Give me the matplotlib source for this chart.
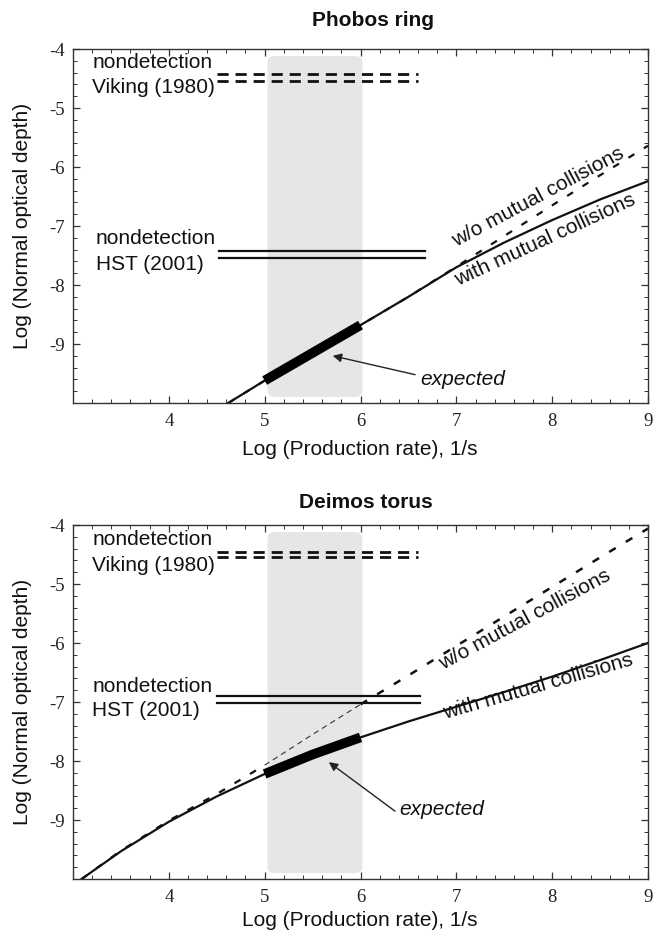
import numpy as np
import matplotlib
matplotlib.use("Agg")
import matplotlib.pyplot as plt
from matplotlib.patches import FancyBboxPatch
from matplotlib.ticker import MultipleLocator

plt.rcParams['font.family'] = ['Liberation Sans', 'DejaVu Sans']
plt.rcParams['axes.unicode_minus'] = False
plt.rcParams['lines.scale_dashes'] = False

# ---------------- data ----------------
x_ticks = [4, 5, 6, 7, 8, 9]
y_ticks = [-9, -8, -7, -6, -5, -4]

phobos_x = [4.62, 5.0, 5.5, 6.0, 6.5, 7.0, 7.5, 8.0, 8.5, 9.0]
phobos_with = [-10.0, -9.62, -9.15, -8.68, -8.2, -7.7, -7.28, -6.9, -6.55, -6.24]
phobos_without = [-10.0, -9.62, -9.15, -8.68, -8.2, -7.69, -7.17, -6.65, -6.14, -5.64]

deimos_x = [3.09, 3.5, 4.0, 4.5, 5.0, 5.5, 6.0, 6.5, 7.0, 7.5, 8.0, 8.5, 9.0]
deimos_with = [-10.0, -9.53, -9.03, -8.6, -8.22, -7.89, -7.6, -7.33, -7.08, -6.83, -6.57, -6.29, -6.0]
deimos_without = [-10.0, -9.52, -9.01, -8.56, -8.07, -7.55, -7.04, -6.55, -6.05, -5.55, -5.05, -4.55, -4.06]

expected_range = [5.0, 6.0]           # log production rate, 1/s
shade_range = [5.03, 6.02]

viking_levels = {'Phobos': [-4.42, -4.55], 'Deimos': [-4.45, -4.55]}
viking_span = [4.5, 6.6]
hst_levels = {'Phobos': [-7.43, -7.55], 'Deimos': [-6.9, -7.02]}
hst_span = {'Phobos': [4.52, 6.67], 'Deimos': [4.5, 6.62]}

W, H = 653, 938
fig = plt.figure(figsize=(W / 100, H / 100), dpi=100)

def px_axes(left, top, right, bottom):
    return fig.add_axes([left / W, 1 - bottom / H, (right - left) / W, (bottom - top) / H])

FS = 15
INK = '#111111'

def setup(ax):
    ax.set_xlim(3, 9)
    ax.set_ylim(-10, -4)
    ax.set_xticks(x_ticks)
    ax.set_yticks(y_ticks)
    ax.xaxis.set_minor_locator(MultipleLocator(0.2))
    ax.yaxis.set_minor_locator(MultipleLocator(0.2))
    ax.tick_params(which='both', direction='in', top=True, right=True,
                   color='#333333', labelfontfamily='Liberation Serif',
                   labelsize=13.5, labelcolor='#222222')
    ax.tick_params(which='major', length=5, width=0.9)
    ax.tick_params(which='minor', length=3, width=0.7)
    ax.tick_params(axis='x', pad=7)
    ax.tick_params(axis='y', pad=6)
    for s in ax.spines.values():
        s.set_color('#333333')
        s.set_linewidth(1.0)

def shade(ax):
    sx0, sx1 = shade_range
    r = 0.07
    asp = (354 / 6) / (575 / 6)
    p = FancyBboxPatch((sx0, -9.9), sx1 - sx0, 5.78,
                       boxstyle=f"round,pad=0,rounding_size={r}",
                       mutation_aspect=1 / asp,
                       facecolor='#e6e6e6', edgecolor='none', zorder=0)
    ax.add_patch(p)

def nondetection(ax, key):
    for lv in viking_levels[key]:
        ax.plot(viking_span, [lv, lv], color=INK, lw=2.0, dashes=(8, 5),
                solid_capstyle='butt', dash_capstyle='butt', zorder=3)
    for lv in hst_levels[key]:
        ax.plot(hst_span[key], [lv, lv], color=INK, lw=1.6, zorder=3)

# ---------------- Phobos ----------------
ax1 = px_axes(73, 49, 648, 403)
setup(ax1)
shade(ax1)
nondetection(ax1, 'Phobos')
px = np.array(phobos_x)
ax1.plot(px, phobos_without, color=INK, lw=1.6, dashes=(5, 8), zorder=2)
ax1.plot(px, phobos_with, color=INK, lw=1.6, zorder=2)
m = (px >= expected_range[0]) & (px <= expected_range[1])
ax1.plot(px[m], np.array(phobos_with)[m], color='black', lw=7,
         solid_capstyle='butt', zorder=4)
ax1.text(3.2, -4.23, 'nondetection', fontsize=FS, va='center', ha='left', color=INK)
ax1.text(3.2, -4.66, 'Viking (1980)', fontsize=FS, va='center', ha='left', color=INK)
ax1.text(3.24, -7.22, 'nondetection', fontsize=FS, va='center', ha='left', color=INK)
ax1.text(3.24, -7.66, 'HST (2001)', fontsize=FS, va='center', ha='left', color=INK)
ax1.text(7.0, -7.36, 'w/o mutual collisions', fontsize=FS, rotation=28,
         rotation_mode='anchor', ha='left', va='baseline', color=INK)
ax1.text(7.02, -8.02, 'with mutual collisions', fontsize=FS, rotation=24.7,
         rotation_mode='anchor', ha='left', va='baseline', color=INK)
ax1.annotate('', xy=(5.71, -9.2), xytext=(6.57, -9.52),
             arrowprops=dict(arrowstyle='-|>', color='#222222', lw=1.0,
                             mutation_scale=13, shrinkA=0, shrinkB=0))
ax1.text(6.62, -9.6, 'expected', fontsize=FS, style='italic', va='center',
         ha='left', color=INK)

# ---------------- Deimos ----------------
ax2 = px_axes(73, 525, 648, 879)
setup(ax2)
shade(ax2)
nondetection(ax2, 'Deimos')
dx = np.array(deimos_x)
dwo = np.array(deimos_without)
lo = dx <= expected_range[0]
mid = (dx >= expected_range[0]) & (dx <= expected_range[1])
hi = dx >= expected_range[1]
ax2.plot(dx[lo], dwo[lo], color=INK, lw=1.6, dashes=(5, 8), zorder=2)
ax2.plot(dx[mid], dwo[mid], color='#333333', lw=0.8, dashes=(4, 3), zorder=2)
ax2.plot(dx[hi], dwo[hi], color=INK, lw=1.8, dashes=(5.5, 8.5), zorder=2)
ax2.plot(dx, deimos_with, color=INK, lw=1.6, zorder=2)
ax2.plot(dx[mid], np.array(deimos_with)[mid], color='black', lw=7,
         solid_capstyle='butt', zorder=4)
ax2.text(3.2, -4.25, 'nondetection', fontsize=FS, va='center', ha='left', color=INK)
ax2.text(3.2, -4.68, 'Viking (1980)', fontsize=FS, va='center', ha='left', color=INK)
ax2.text(3.2, -6.74, 'nondetection', fontsize=FS, va='center', ha='left', color=INK)
ax2.text(3.2, -7.15, 'HST (2001)', fontsize=FS, va='center', ha='left', color=INK)
ax2.text(6.86, -6.46, 'w/o mutual collisions', fontsize=FS, rotation=28.3,
         rotation_mode='anchor', ha='left', va='baseline', color=INK)
ax2.text(6.88, -7.28, 'with mutual collisions', fontsize=FS, rotation=16,
         rotation_mode='anchor', ha='left', va='baseline', color=INK)
ax2.annotate('', xy=(5.67, -8.02), xytext=(6.36, -8.85),
             arrowprops=dict(arrowstyle='-|>', color='#222222', lw=1.0,
                             mutation_scale=13, shrinkA=0, shrinkB=0))
ax2.text(6.41, -8.83, 'expected', fontsize=FS, style='italic', va='center',
         ha='left', color=INK)

# ---------------- titles / labels ----------------
fig.text(373 / W, 1 - 21 / H, 'Phobos ring', fontsize=15, fontweight='bold',
         ha='center', va='center', color=INK)
fig.text(366 / W, 1 - 502 / H, 'Deimos torus', fontsize=15, fontweight='bold',
         ha='center', va='center', color=INK)
for yc in (449, 920):
    fig.text(360 / W, 1 - yc / H, 'Log (Production rate), 1/s', fontsize=FS,
             ha='center', va='center', color=INK)
for yc in (226, 702):
    fig.text(23 / W, 1 - yc / H, 'Log (Normal optical depth)', fontsize=FS,
             rotation=90, ha='center', va='center', color=INK)

fig.savefig('out.png', dpi=100)
